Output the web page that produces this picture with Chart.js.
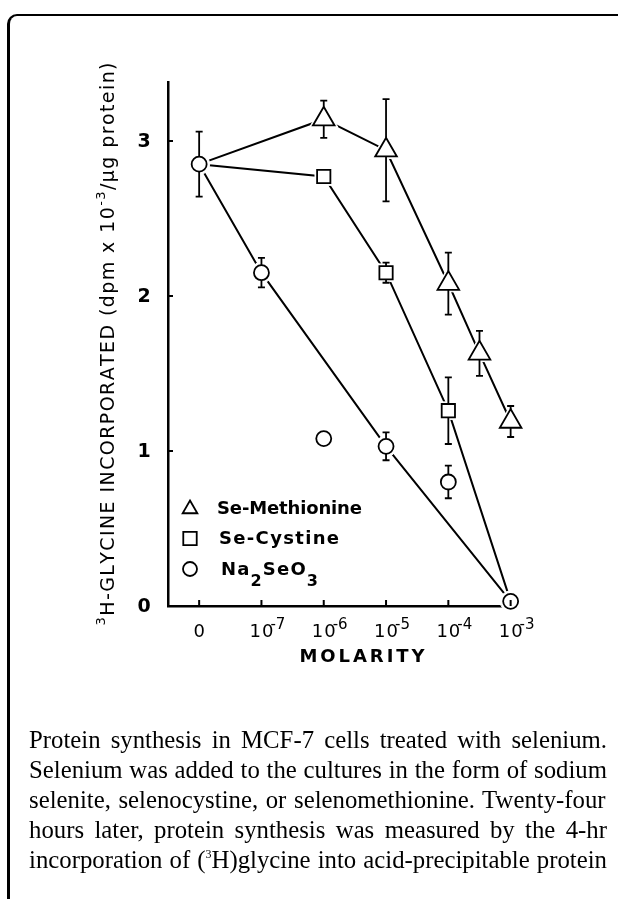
<!DOCTYPE html>
<html>
<head>
<meta charset="utf-8">
<script src="https://cdn.jsdelivr.net/npm/chart.js@4/dist/chart.umd.min.js"></script>
<style>
html,body{margin:0;padding:0;background:#fff;width:618px;height:899px;overflow:hidden;}
#frame{position:absolute;left:7px;top:14px;width:700px;height:1000px;border-left:3px solid #000;border-top:2px solid #000;border-top-left-radius:10px;box-sizing:border-box;}
#c{position:absolute;left:0;top:0;}
#cap{position:absolute;left:29px;top:725px;width:578px;font-family:'Liberation Serif','Times New Roman',serif;font-size:24px;line-height:30px;color:#000;}
#cap div{white-space:nowrap;}
#cap sup{font-size:12px;vertical-align:10px;line-height:0;}
</style>
</head>
<body>
<div id="frame"></div>
<canvas id="c" width="618" height="899"></canvas>
<div id="cap"></div>
<script>
// ---------------- DATA ----------------
const xTickValues = [-8, -7, -6, -5, -4, -3];          // log10(molarity); "0" control drawn at -8
const xTickLabels = ['0', '10^-7', '10^-6', '10^-5', '10^-4', '10^-3'];
const yTickValues = [0, 1, 2, 3];
const yTickLabels = ['0', '1', '2', '3'];

// Na2SeO3 (circles)
const naX = [-8, -7, -6, -5, -4, -3];
const naY = [2.85, 2.15, 1.08, 1.03, 0.80, 0.03];
const naErr = [0.21, 0.095, 0, 0.09, 0.105, 0];
const naOnLine = [true, true, false, true, false, true];

// Se-Cystine (squares)
const cysX = [-8, -6, -5, -4, -3];
const cysY = [2.85, 2.77, 2.15, 1.26, 0.03];
const cysErr = [0, 0, 0.065, 0.215, 0];
const cysMarker = [false, true, true, true, false];

// Se-Methionine (triangles)
const metX = [-8, -6, -5, -4, -3.5, -3];
const metY = [2.85, 3.14, 2.94, 2.08, 1.63, 1.19];
const metErr = [0, 0.12, 0.33, 0.2, 0.145, 0.1];
const metMarker = [false, true, true, true, true, true];

const xAxisTitle = 'MOLARITY';
const yAxisTitleRuns = [
  {t: '3', sup: true},
  {t: 'H-GLYCINE INCORPORATED (dpm x 10'},
  {t: '-3', sup: true},
  {t: '/\u00b5g protein)'}
];
const captionLines = [
  'Protein synthesis in MCF-7 cells treated with selenium.',
  'Selenium was added to the cultures in the form of sodium',
  'selenite, selenocystine, or selenomethionine.  Twenty-four',
  'hours later, protein synthesis was measured by the 4-hr',
  'incorporation of (<sup>3</sup>H)glycine into acid-precipitable protein'
];

// ---------------- SERIES ----------------
const series = [
  {label: 'Se-Methionine', x: metX, y: metY, err: metErr, linked: metX.map(() => true), marker: metMarker, style: 'triangle', r: 12.5, halo: 4},
  {label: 'Se-Cystine', x: cysX, y: cysY, err: cysErr, linked: cysX.map(() => true), marker: cysMarker, style: 'rect', r: 9.4, halo: 3},
  {label: 'Na2SeO3', x: naX, y: naY, err: naErr, linked: naOnLine, marker: naX.map(() => true), style: 'circle', r: 7.5, halo: 3}
];

const datasets = [];
series.forEach(s => {
  const pts = s.x.map((x, i) => ({x, y: s.y[i]}));
  datasets.push({
    label: s.label, role: 'line',
    data: pts.filter((p, i) => s.linked[i]),
    showLine: true, pointRadius: 0, borderColor: '#000', borderWidth: 2,
    order: 3, clip: false
  });
  const mk = pts.filter((p, i) => s.marker[i]);
  const mkErr = s.err.filter((e, i) => s.marker[i]);
  datasets.push({
    label: s.label + ' halo', role: 'halo',
    data: mk, showLine: false, pointStyle: s.style, pointRadius: s.r + s.halo,
    pointBackgroundColor: '#fff', pointBorderColor: '#fff', pointBorderWidth: 1,
    order: 2, clip: false
  });
  datasets.push({
    label: s.label, role: 'marker', errors: mkErr, styleName: s.style, r: s.r,
    data: mk, showLine: false, pointStyle: s.style, pointRadius: s.r,
    pointBackgroundColor: '#fff', pointBorderColor: '#000', pointBorderWidth: 1.8,
    order: 1, clip: false
  });
});

// ---------------- TEXT HELPERS ----------------
const FONT = "'DejaVu Sans', 'Liberation Sans', sans-serif";
function setFont(ctx, size, weight) { ctx.font = (weight || 'normal') + ' ' + size + 'px ' + FONT; }
function runsWidth(ctx, runs, spacing) {
  let w = 0, n = 0;
  runs.forEach(r => { setFont(ctx, r.size, r.weight); for (const ch of r.t) { w += ctx.measureText(ch).width; n++; } });
  return w + spacing * (n - 1);
}
function runsCount(runs) { return runs.reduce((a, r) => a + [...r.t].length, 0); }
function fitSpacing(ctx, runs, target) { return (target - runsWidth(ctx, runs, 0)) / (runsCount(runs) - 1); }
function drawRuns(ctx, runs, x, y, spacing, align) {
  const w = runsWidth(ctx, runs, spacing);
  let cx = align === 'center' ? x - w / 2 : (align === 'right' ? x - w : x);
  ctx.textBaseline = 'middle'; ctx.textAlign = 'left';
  runs.forEach(r => {
    setFont(ctx, r.size, r.weight);
    for (const ch of r.t) { ctx.fillText(ch, cx, y + (r.dy || 0)); cx += ctx.measureText(ch).width + spacing; }
  });
}
function markerHalf(style, r) {
  if (style === 'triangle') return {up: r, down: r / 2};
  if (style === 'rect') return {up: r * Math.SQRT1_2, down: r * Math.SQRT1_2};
  return {up: r, down: r};
}
function drawMarker(ctx, style, r, x, y) {
  ctx.save();
  ctx.fillStyle = '#fff'; ctx.strokeStyle = '#000'; ctx.lineWidth = 1.8;
  Chart.helpers.drawPoint(ctx, {pointStyle: style, radius: r, borderWidth: 1.8, rotation: 0}, x, y);
  ctx.restore();
}

// ---------------- DECOR PLUGIN ----------------
const decor = {
  id: 'decor',
  afterDatasetsDraw(chart) {
    const ctx = chart.ctx;
    const xs = chart.scales.x, ys = chart.scales.y;
    const area = chart.chartArea;
    ctx.save();
    ctx.strokeStyle = '#000'; ctx.fillStyle = '#000';

    // error bars
    ctx.lineWidth = 1.8;
    chart.data.datasets.forEach((ds, di) => {
      if (ds.role !== 'marker') return;
      const meta = chart.getDatasetMeta(di);
      meta.data.forEach((el, i) => {
        const e = ds.errors[i];
        if (!e) return;
        const v = ds.data[i].y;
        const top = ys.getPixelForValue(v + e);
        const bot = ys.getPixelForValue(v - e);
        const h = markerHalf(ds.styleName, ds.r);
        ctx.beginPath();
        if (el.y - top > h.up) { ctx.moveTo(el.x, el.y - h.up); ctx.lineTo(el.x, top); }
        ctx.moveTo(el.x - 3.5, top); ctx.lineTo(el.x + 3.5, top);
        if (bot - el.y > h.down) { ctx.moveTo(el.x, el.y + h.down); ctx.lineTo(el.x, bot); }
        ctx.moveTo(el.x - 3.5, bot); ctx.lineTo(el.x + 3.5, bot);
        ctx.stroke();
      });
    });

    // tick marks (inside)
    ctx.lineWidth = 2;
    ctx.beginPath();
    yTickValues.forEach(v => { if (v === 0) return; const p = ys.getPixelForValue(v); ctx.moveTo(area.left, p); ctx.lineTo(area.left + 5, p); });
    xTickValues.forEach(v => { const p = xs.getPixelForValue(v); ctx.moveTo(p, area.bottom); ctx.lineTo(p, area.bottom - 6); });
    ctx.stroke();

    // y tick labels
    yTickValues.forEach((v, i) => {
      const p = ys.getPixelForValue(v);
      drawRuns(ctx, [{t: yTickLabels[i], size: 19, weight: 'bold'}], area.left - 24, p + 1, 0, 'center');
    });

    // x tick labels
    xTickValues.forEach((v, i) => {
      const p = xs.getPixelForValue(v);
      const parts = xTickLabels[i].split('^');
      const base = [{t: parts[0], size: 18}];
      const bw = runsWidth(ctx, base, 1);
      drawRuns(ctx, base, p, area.bottom + 26, 1, 'center');
      if (parts[1]) drawRuns(ctx, [{t: parts[1], size: 15}], p + bw / 2 - 3, area.bottom + 19, 0, 'left');
    });

    // x axis title
    const xt = [{t: xAxisTitle, size: 18, weight: 'bold'}];
    drawRuns(ctx, xt, 362, area.bottom + 51, fitSpacing(ctx, xt, 125), 'center');

    // y axis title (rotated)
    const yt = yAxisTitleRuns.map(r => r.sup ? {t: r.t, size: 13, dy: -7} : {t: r.t, size: 19});
    ctx.save();
    ctx.translate(109, (area.top + area.bottom) / 2);
    ctx.rotate(-Math.PI / 2);
    drawRuns(ctx, yt, 0, 0, fitSpacing(ctx, yt, 563), 'center');
    ctx.restore();

    // legend
    const lx = area.left + 22, ly = area.bottom - 98, step = 30.5;
    const legendRuns = [
      [{t: 'Se-Methionine', size: 18, weight: 'bold'}],
      [{t: 'Se-Cystine', size: 18, weight: 'bold'}],
      [{t: 'Na', size: 18, weight: 'bold'}, {t: '2', size: 16, weight: 'bold', dy: 12}, {t: 'SeO', size: 18, weight: 'bold'}, {t: '3', size: 16, weight: 'bold', dy: 12}]
    ];
    const legendWidths = [145, 120, 97];
    const legendMarkers = [['triangle', 8.5], ['rect', 9.5], ['circle', 7]];
    legendRuns.forEach((runs, i) => {
      const y = ly + i * step;
      drawMarker(ctx, legendMarkers[i][0], legendMarkers[i][1], lx, y + (i === 0 ? 1 : 0));
      ctx.fillStyle = '#000';
      drawRuns(ctx, runs, lx + 27 + (i === 2 ? 4 : i * 2), y + 1, fitSpacing(ctx, runs, legendWidths[i]), 'left');
    });
    ctx.restore();
  }
};

new Chart(document.getElementById('c'), {
  type: 'scatter',
  data: {datasets},
  options: {
    responsive: false,
    animation: false,
    events: [],
    layout: {padding: {left: 168, right: 103, top: 82, bottom: 293}},
    plugins: {legend: {display: false}, tooltip: {enabled: false}},
    scales: {
      x: {
        type: 'linear', min: -8.5, max: -2.93,
        ticks: {display: false},
        grid: {display: false, drawTicks: false},
        border: {display: true, color: '#000', width: 2.5},
        afterFit: s => { s.height = 0; }
      },
      y: {
        type: 'linear', min: 0, max: 3.38,
        ticks: {display: false},
        grid: {display: false, drawTicks: false},
        border: {display: true, color: '#000', width: 2.5},
        afterFit: s => { s.width = 0; }
      }
    }
  },
  plugins: [decor]
});

// caption: scale font so the longest line fits, then justify line by line
const cap = document.getElementById('cap');
const spans = captionLines.map(l => {
  const d = document.createElement('div');
  const sp = document.createElement('span');
  sp.innerHTML = l;
  d.appendChild(sp);
  cap.appendChild(d);
  return sp;
});
const maxW = Math.max(...spans.map(sp => sp.getBoundingClientRect().width));
const fs = Math.min(26, 24 * 574 / maxW);
cap.style.fontSize = fs + 'px';
cap.style.top = (748 - ((30 - 1.107 * fs) / 2 + 0.891 * fs)) + 'px';
spans.forEach(sp => {
  const w = sp.getBoundingClientRect().width;
  const spaces = (sp.textContent.match(/ /g) || []).length;
  if (spaces) sp.style.wordSpacing = ((578 - w) / spaces) + 'px';
});
</script>
</body>
</html>
